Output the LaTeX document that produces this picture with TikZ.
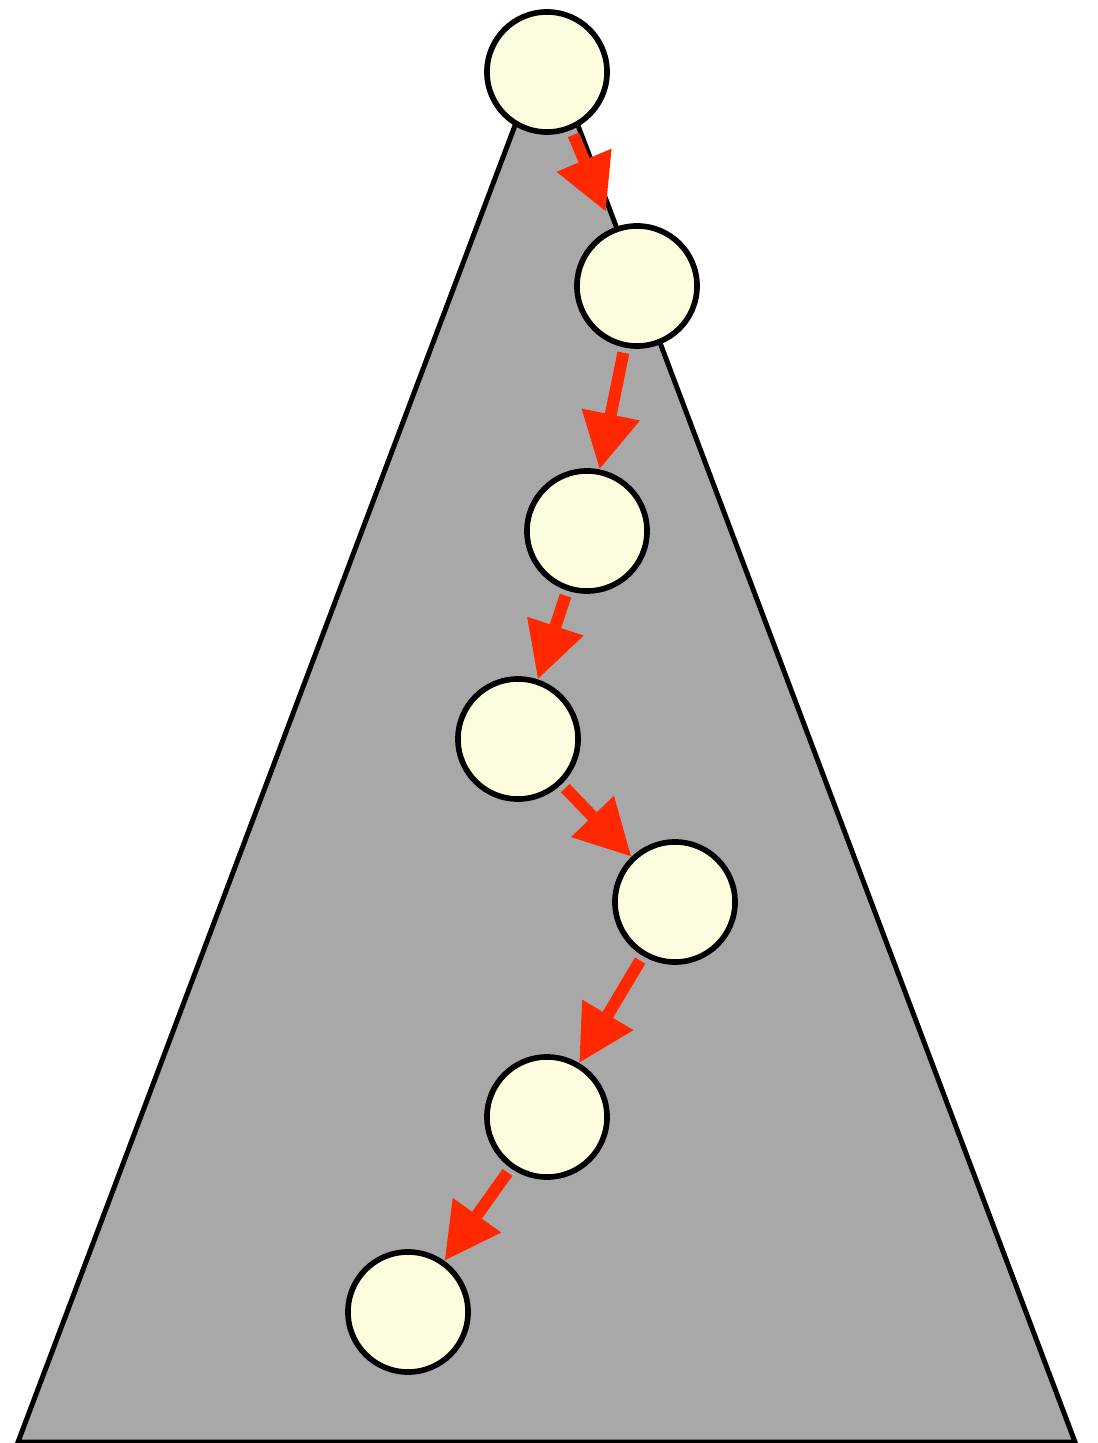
\documentclass[tikz,border=0pt]{standalone}
\usepackage{tikz}
\usetikzlibrary{arrows.meta}
\usepackage{xcolor}
\definecolor{cTree}{RGB}{168,168,168}
\definecolor{cNode}{RGB}{252,252,222}
\definecolor{cPath}{RGB}{255,40,0}

\begin{document}
\begin{tikzpicture}[x=0.01cm, y=-0.01cm,
  vertex/.style={circle, draw=black, line width=1.6pt, fill=cNode,
    minimum size=1.2cm, inner sep=0pt},
  walk/.style={-{Triangle[length=5.6mm,width=5.6mm]}, line width=3.4pt,
    cPath, shorten <=1.5pt}]
  \useasboundingbox (0,0) rectangle (1097,1443);
  % Tree
  \filldraw[fill=cTree, draw=black, line width=1.4pt]
    (546.5,42) -- (1075,1442) -- (18,1442) -- cycle;
  % Nodes along the path
  \node[vertex] (n1) at (547,72) {};
  \node[vertex] (n2) at (637,286) {};
  \node[vertex] (n3) at (587,531) {};
  \node[vertex] (n4) at (518,739) {};
  \node[vertex] (n5) at (675,902) {};
  \node[vertex] (n6) at (547,1117) {};
  \node[vertex] (n7) at (408,1312) {};
  % Path
  \draw[walk, shorten >=5pt] (n1) -- (n2);
  \draw[walk] (n2) -- (n3);
  \draw[walk] (n3) -- (n4);
  \draw[walk] (n4) -- (n5);
  \draw[walk] (n5) -- (n6);
  \draw[walk] (n6) -- (n7);
\end{tikzpicture}
\end{document}
